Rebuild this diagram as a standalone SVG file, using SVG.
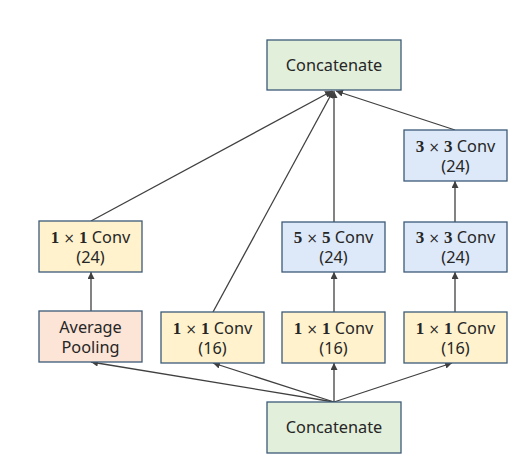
<svg xmlns="http://www.w3.org/2000/svg" width="523" height="474" viewBox="0 0 523 474">
<style>
.box{stroke:#3c5a78;stroke-width:1.3}
.g{fill:#e2efda}.y{fill:#fff2cc}.b{fill:#dde9f8}.p{fill:#fce4d6}
text{font-family:"Noto Sans","Open Sans",sans-serif;font-size:16.3px;fill:#262626;text-anchor:middle}
.m{font-family:"Liberation Serif","DejaVu Serif",serif;font-weight:bold;font-size:17px}
.x{font-family:"DejaVu Sans",sans-serif;font-size:13.5px}
.c line{stroke:#404040;stroke-width:1.3;marker-end:url(#a)}
</style>
<defs>
<marker id="a" viewBox="0 0 10 10" refX="10" refY="5" markerWidth="7" markerHeight="7" markerUnits="userSpaceOnUse" orient="auto">
<path d="M0,0L10,5L0,10z" fill="#404040"/>
</marker>
</defs>
<rect width="523" height="474" fill="#fff"/>
<g class="c">
<line x1="91" y1="221" x2="332" y2="91"/>
<line x1="213" y1="312" x2="333" y2="91"/>
<line x1="334" y1="222" x2="334" y2="91"/>
<line x1="455" y1="130" x2="336" y2="91"/>
<line x1="91" y1="311" x2="91" y2="272"/>
<line x1="334" y1="312" x2="334" y2="272"/>
<line x1="455" y1="312" x2="455" y2="272"/>
<line x1="455" y1="222" x2="455" y2="181"/>
<line x1="334" y1="402" x2="91" y2="362"/>
<line x1="334" y1="402" x2="213" y2="363"/>
<line x1="334" y1="402" x2="334" y2="363"/>
<line x1="334" y1="402" x2="452" y2="363"/>
</g>
<g id="concat-top"><rect class="box g" x="267" y="40" width="134" height="50"/><text x="334" y="71">Concatenate</text></g>
<g id="conv3-top"><rect class="box b" x="404" y="130" width="103" height="51"/><text x="455.5" y="152"><tspan class="m">3</tspan><tspan class="x"> × </tspan><tspan class="m">3</tspan> Conv</text><text x="455.5" y="172">(24)</text></g>
<g id="conv1-24"><rect class="box y" x="39" y="221" width="103" height="51"/><text x="90.5" y="243"><tspan class="m">1</tspan><tspan class="x"> × </tspan><tspan class="m">1</tspan> Conv</text><text x="90.5" y="263">(24)</text></g>
<g id="conv5"><rect class="box b" x="282" y="222" width="103" height="50"/><text x="333.5" y="243"><tspan class="m">5</tspan><tspan class="x"> × </tspan><tspan class="m">5</tspan> Conv</text><text x="333.5" y="263">(24)</text></g>
<g id="conv3-mid"><rect class="box b" x="404" y="222" width="103" height="50"/><text x="455.5" y="243"><tspan class="m">3</tspan><tspan class="x"> × </tspan><tspan class="m">3</tspan> Conv</text><text x="455.5" y="263">(24)</text></g>
<g id="avgpool"><rect class="box p" x="39" y="311" width="103" height="51"/><text x="90.5" y="333">Average</text><text x="90.5" y="353">Pooling</text></g>
<g id="conv1-16a"><rect class="box y" x="161" y="312" width="103" height="51"/><text x="212.5" y="334"><tspan class="m">1</tspan><tspan class="x"> × </tspan><tspan class="m">1</tspan> Conv</text><text x="212.5" y="354">(16)</text></g>
<g id="conv1-16b"><rect class="box y" x="282" y="312" width="103" height="51"/><text x="333.5" y="334"><tspan class="m">1</tspan><tspan class="x"> × </tspan><tspan class="m">1</tspan> Conv</text><text x="333.5" y="354">(16)</text></g>
<g id="conv1-16c"><rect class="box y" x="404" y="312" width="103" height="51"/><text x="455.5" y="334"><tspan class="m">1</tspan><tspan class="x"> × </tspan><tspan class="m">1</tspan> Conv</text><text x="455.5" y="354">(16)</text></g>
<g id="concat-bottom"><rect class="box g" x="267" y="402" width="134" height="51"/><text x="334" y="433">Concatenate</text></g>
</svg>
